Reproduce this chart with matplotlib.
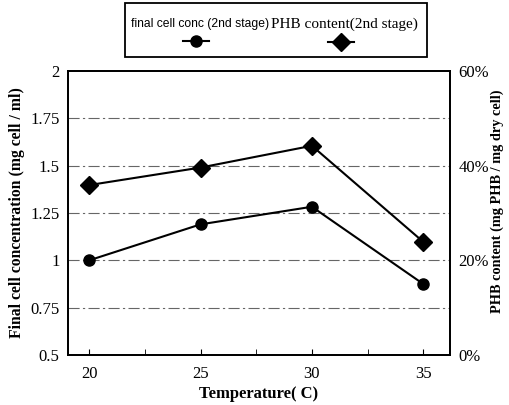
import matplotlib
matplotlib.use("Agg")
import matplotlib.pyplot as plt
from matplotlib.lines import Line2D
from matplotlib.patches import Rectangle
from matplotlib.ticker import FixedLocator, PercentFormatter

temps = [20, 25, 30, 35]
cell_conc = [1.0, 1.19, 1.283, 0.875]
phb_content = [35.9, 39.6, 44.2, 23.9]
left_ticks = [0.5, 0.75, 1, 1.25, 1.5, 1.75, 2]
left_labels = ["0.5", "0.75", "1", "1.25", "1.5", "1.75", "2"]
right_ticks = [0, 20, 40, 60]
x_ticks = [20, 25, 30, 35]
label_conc = "final cell conc (2nd stage)"
label_phb = "PHB content(2nd stage)"

W, H = 510, 405
fig = plt.figure(figsize=(W / 100, H / 100), dpi=100)
L, R, T, B = 68, 450, 71, 355
ax = fig.add_axes([L / W, 1 - B / H, (R - L) / W, (B - T) / H])
ax2 = ax.twinx()

serif = "Liberation Serif"

ax.plot(temps, cell_conc, color="black", lw=1.5, marker="o", ms=8, zorder=3)
ax2.plot(temps, phb_content, color="black", lw=1.5, marker="D", ms=9, zorder=3)

ax.set_xlim(19.05, 36.2)
ax.set_ylim(0.5, 2)
ax2.set_ylim(0, 60)

ax.set_xticks(x_ticks)
ax.set_xticklabels([str(t) for t in x_ticks], fontfamily=serif, fontsize=12)
ax.xaxis.set_minor_locator(FixedLocator([22.5, 27.5, 32.5]))
ax.tick_params(axis="x", which="both", direction="in", length=4, pad=8)

ax.set_yticks(left_ticks)
ax.set_yticklabels(left_labels, fontfamily=serif, fontsize=12)
ax.tick_params(axis="y", length=0, pad=6)

ax2.set_yticks(right_ticks)
ax2.yaxis.set_major_formatter(PercentFormatter(decimals=0))
for lab in ax2.get_yticklabels():
    lab.set_fontfamily(serif)
    lab.set_fontsize(12)
ax2.tick_params(axis="y", length=0, pad=6)

for v in left_ticks[1:-1]:
    ax.axhline(v, color="#666666", lw=0.8, ls=(0, (10, 3, 2, 3)), zorder=1)

for a in (ax, ax2):
    for s in a.spines.values():
        s.set_linewidth(1.3)

ax.set_xlabel("Temperature( C)", fontfamily=serif, fontweight="bold", fontsize=12, labelpad=3)
ax.set_ylabel("Final cell concentration (mg cell / ml)", fontfamily=serif,
              fontweight="bold", fontsize=11.3)
ax2.set_ylabel("PHB content (mg PHB / mg dry cell)", fontfamily=serif,
               fontweight="bold", fontsize=10.3)
ax.yaxis.set_label_coords(-(L - 25) / (R - L), (B - 213) / (B - T))
ax2.yaxis.set_label_coords(1 + (491 - R) / (R - L), (B - 201) / (B - T))

# legend box
fig.patches.append(Rectangle((125 / W, 1 - 57 / H), (427 - 125) / W, (57 - 3) / H,
                             transform=fig.transFigure, fill=False, ec="black", lw=1.3))
fig.text(200 / W, 1 - 24 / H, label_conc, ha="center", va="center",
         fontfamily="Liberation Sans", fontsize=8.7)
fig.text(344 / W, 1 - 24 / H, label_phb, ha="center", va="center",
         fontfamily=serif, fontsize=11)
fig.lines.append(Line2D([183 / W, 209 / W], [1 - 41 / H, 1 - 41 / H], transform=fig.transFigure,
                        color="black", lw=1.5))
fig.lines.append(Line2D([196 / W], [1 - 41 / H], transform=fig.transFigure,
                        color="black", marker="o", ms=8, ls="none"))
fig.lines.append(Line2D([328 / W, 354 / W], [1 - 42 / H, 1 - 42 / H], transform=fig.transFigure,
                        color="black", lw=1.5))
fig.lines.append(Line2D([341 / W], [1 - 42 / H], transform=fig.transFigure,
                        color="black", marker="D", ms=9, ls="none"))

fig.savefig("out.png", dpi=100)
